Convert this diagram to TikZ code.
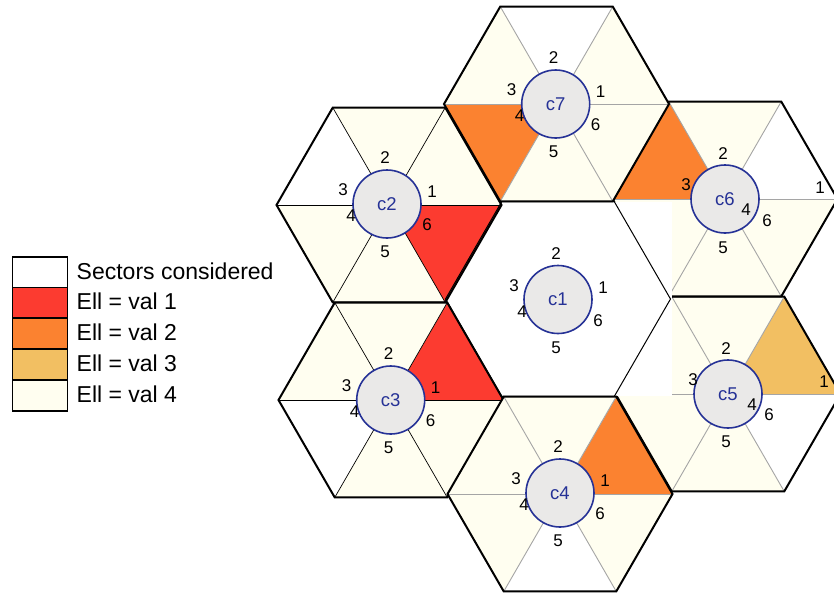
\documentclass[tikz,border=0pt]{standalone}
\usepackage{fontspec}
\setmainfont{Liberation Sans}
\definecolor{ered}{RGB}{252,59,48}
\definecolor{eorange}{RGB}{251,130,48}
\definecolor{elight}{RGB}{242,191,98}
\definecolor{cream}{RGB}{255,254,240}
\definecolor{cellgray}{RGB}{234,233,232}
\definecolor{cellblue}{RGB}{38,50,150}
\definecolor{spokegray}{RGB}{165,165,165}
\def\R{112.5}
\tikzset{
 hexline/.style={line width=2pt, line join=miter, black},
 spokeblack/.style={line width=0.7pt, black},
 spokegrey/.style={line width=0.9pt, spokegray},
 cell/.style={circle, draw=cellblue, fill=cellgray, line width=1.6pt, minimum size=68pt, inner sep=0pt, text=cellblue, font=\fontsize{18.5}{21}\selectfont},
 num/.style={inner sep=0pt, font=\fontsize{17}{19}\selectfont},
 legbox/.style={draw=black, line width=1.8pt, minimum width=55pt, minimum height=30.8pt, inner sep=0pt},
 legtext/.style={anchor=base west, inner sep=0pt, font=\fontsize{23}{27}\selectfont},
}
\newcommand\hexcell[4]{%
 \begin{scope}[shift={(#1,#2)}]
  \foreach \f [count=\k] in {#3} \fill[fill=\f] (0,0) -- ({-60*(\k-1)}:\R) -- ({-60*\k}:\R) -- cycle;
  \foreach \k in {0,...,5} \draw[#4] (0,0) -- ({-60*\k}:\R);
  \draw[hexline] (0:\R) -- (-60:\R) -- (-120:\R) -- (180:\R) -- (120:\R) -- (60:\R) -- cycle;
 \end{scope}}
\newcommand\cellmark[4]{%
 \node[cell] (#1) at (#2,#3) {#1};
 \foreach \dx/\dy [count=\k] in {#4} \node[num] (#1s\k) at ({#2+(\dx)},{#3+(\dy)}) {\k};}
\begin{document}
\begin{tikzpicture}[x=1pt,y=-1pt]
\fill[white] (0,0) rectangle (834,592);
\clip (0,0) rectangle (834,592);
% right-hand cells (partly hidden by the central cell's white frame)
\hexcell{728}{394}{elight,cream,cream,cream,cream,white}{spokegrey}
\hexcell{725}{199}{white,cream,eorange,cream,cream,cream}{spokegrey}
% central cell
\fill[white] (445.5,201.6) rectangle (672,396.4);
% other cells
\hexcell{389}{205}{cream,cream,white,cream,cream,ered}{spokeblack}
\hexcell{391}{400}{ered,cream,cream,white,cream,cream}{spokeblack}
\hexcell{560}{494}{eorange,cream,cream,cream,white,cream}{spokegrey}
\hexcell{556.5}{104}{cream,white,cream,eorange,cream,cream}{spokegrey}
\begin{scope}[shift={(558,299)}]
 \draw[line width=1pt] (0:\R) -- (-60:\R) -- (-120:\R) -- (180:\R) -- (120:\R) -- (60:\R) -- cycle;
\end{scope}
% cells and sector numbers
\cellmark{c1}{558}{299.5}{45/-12,-2/-46,-44/-14,-36/12,-2/48,40/21}
\cellmark{c2}{387}{204}{45/-12,-2/-46,-44/-14,-36/12,-2/48,40/21}
\cellmark{c3}{390.7}{400}{45/-12,-2/-46,-44/-14,-36/12,-2/48,40/21}
\cellmark{c4}{560}{493}{45/-12,-2/-46,-44/-14,-36/12,-2/48,40/21}
\cellmark{c5}{728}{394}{96/-12,-2/-45,-35/-14,24/11,-2/48,41/21}
\cellmark{c6}{725}{199}{95/-11,-2/-45,-39/-14,21/11,-2/49,42/22}
\cellmark{c7}{555.7}{104}{45/-12,-2/-46,-44/-14,-36/12,-2/48,40/21}
% legend
\foreach \col/\txt [count=\i] in {white/Sectors considered, ered/Ell = val 1, eorange/Ell = val 2, elight/Ell = val 3, cream/Ell = val 4} {
 \node[legbox, fill=\col] (leg\i) at (40,{256.7+30.8*(\i-0.5)}) {};
 \node[legtext] (legt\i) at (76.5,{256.7+30.8*(\i-0.5)+7}) {\txt};
}
\end{tikzpicture}
\end{document}
